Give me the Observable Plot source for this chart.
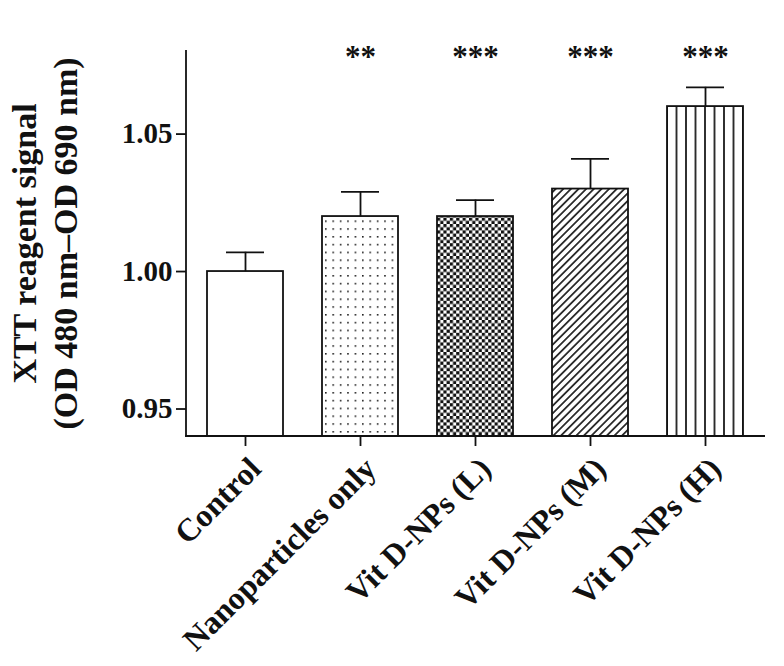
<!DOCTYPE html>
<html><head><meta charset="utf-8">
<script src="https://cdn.jsdelivr.net/npm/d3@7"></script>
<script src="https://cdn.jsdelivr.net/npm/@observablehq/plot@0.6"></script>
<style>body{margin:0;background:#fff}</style>
</head><body><div id="chart"></div>
<script>
const groups = ["Control", "Nanoparticles only", "Vit D-NPs (L)", "Vit D-NPs (M)", "Vit D-NPs (H)"];
const means = [1.000, 1.020, 1.020, 1.030, 1.060];
const sems = [0.007, 0.009, 0.006, 0.011, 0.007];
const stars = ["", "**", "***", "***", "***"];
const patterns = ["white", "url(#p-dots)", "url(#p-check)", "url(#p-diag)", "url(#p-vert)"];
const yTicks = [0.95, 1.00, 1.05];
const yDomain = [0.94, 1.0804];
const yTitle = "XTT reagent signal\n(OD 480 nm\u2013OD 690 nm)";

const data = groups.map((g, i) => ({group: g, mean: means[i], sem: sems[i], star: stars[i], fill: patterns[i]}));
const FONT = "'Liberation Serif', 'Times New Roman', serif";
const SW = 1.8;

function defsMark(index, scales, values, dims) {
  const x = scales.x, bw = x.bandwidth();
  const defs = d3.create("svg:defs");
  // dots
  const pd = defs.append("pattern").attr("id", "p-dots").attr("patternUnits", "userSpaceOnUse")
    .attr("x", x(groups[1]) + 3).attr("y", 2).attr("width", 7.4).attr("height", 7.8);
  pd.append("rect").attr("width", 7.4).attr("height", 7.8).attr("fill", "white");
  pd.append("rect").attr("x", 0).attr("y", 0).attr("width", 1.6).attr("height", 1.6).attr("fill", "#222");
  // checker
  const pc = defs.append("pattern").attr("id", "p-check").attr("patternUnits", "userSpaceOnUse")
    .attr("x", x(groups[2])).attr("width", 6.4).attr("height", 6.4);
  pc.append("rect").attr("width", 6.4).attr("height", 6.4).attr("fill", "white");
  pc.append("rect").attr("width", 3.2).attr("height", 3.2).attr("fill", "#111");
  pc.append("rect").attr("x", 3.2).attr("y", 3.2).attr("width", 3.2).attr("height", 3.2).attr("fill", "#111");
  // diagonal
  const pg = defs.append("pattern").attr("id", "p-diag").attr("patternUnits", "userSpaceOnUse")
    .attr("width", 5.4).attr("height", 10).attr("patternTransform", "rotate(45)");
  pg.append("rect").attr("width", 5.4).attr("height", 10).attr("fill", "white");
  pg.append("line").attr("x1", 2.7).attr("x2", 2.7).attr("y1", 0).attr("y2", 10).attr("stroke", "#111").attr("stroke-width", 1.6);
  // vertical lines aligned to the bar
  const w = bw / 8;
  const pv = defs.append("pattern").attr("id", "p-vert").attr("patternUnits", "userSpaceOnUse")
    .attr("x", x(groups[4]) - w / 2).attr("width", w).attr("height", 10);
  pv.append("rect").attr("width", w).attr("height", 10).attr("fill", "white");
  pv.append("line").attr("x1", w / 2).attr("x2", w / 2).attr("y1", 0).attr("y2", 10).attr("stroke", "#111").attr("stroke-width", 1.7);
  return defs.node();
}

function axisLines(index, scales, values, dims) {
  const g = d3.create("svg:g").attr("stroke", "#111").attr("stroke-width", SW).attr("fill", "none");
  const l = dims.marginLeft, r = dims.width - dims.marginRight;
  const t = dims.marginTop, b = dims.height - dims.marginBottom;
  g.append("line").attr("x1", l).attr("x2", l).attr("y1", t).attr("y2", b + SW / 2);
  g.append("line").attr("x1", l - SW / 2).attr("x2", r).attr("y1", b).attr("y2", b);
  return g.node();
}

const chart = Plot.plot({
  width: 784,
  height: 666,
  marginLeft: 186,
  marginRight: 19,
  marginTop: 50,
  marginBottom: 230,
  style: {fontFamily: FONT, fontWeight: "bold", color: "#111", background: "white"},
  x: {domain: groups, paddingInner: 0.335, paddingOuter: 0.1675},
  y: {domain: yDomain},
  marks: [
    defsMark,
    Plot.barY(data, {x: "group", y1: yDomain[0], y2: "mean", fill: "fill", stroke: "#111", strokeWidth: SW}),
    Plot.ruleX(data, {x: "group", y1: "mean", y2: d => d.mean + d.sem, stroke: "#111", strokeWidth: SW}),
    Plot.tickY(data, {x: "group", y: d => d.mean + d.sem, insetLeft: 19, insetRight: 19, stroke: "#111", strokeWidth: SW}),
    Plot.text(data, {x: "group", text: "star", frameAnchor: "top", dy: -6, fontSize: 31, fill: "#111"}),
    axisLines,
    Plot.axisY({ticks: yTicks, tickFormat: d3.format(".2f"), tickSize: 10, tickPadding: 4, fontSize: 29, strokeWidth: SW, label: null}),
    // x ticks only
    Plot.axisX({tickSize: 10, tickFormat: () => "", strokeWidth: SW, label: null}),
    // x tick labels, rotated
    Plot.axisX({tickRotate: -45, tickSize: 0, tickPadding: 19, dx: 10, dy: 8, fontSize: 32, label: null}),
    Plot.text([yTitle], {frameAnchor: "left", textAnchor: "middle", rotate: -90, dx: -143, fontSize: 34, lineHeight: 1.2, fill: "#111"})
  ]
});
document.getElementById("chart").appendChild(chart);
</script>
</body></html>
